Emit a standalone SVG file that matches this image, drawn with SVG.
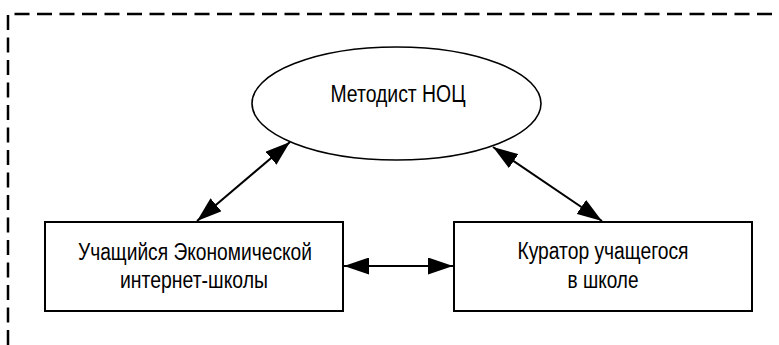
<svg xmlns="http://www.w3.org/2000/svg" width="779" height="345" viewBox="0 0 779 345">
<defs>
<style>
.frame{fill:none;stroke:#000;stroke-width:2.5;stroke-dasharray:15 7.5}
.node{fill:#fff;stroke:#000;stroke-width:2}
.ell{fill:#fff;stroke:#000;stroke-width:1.6}
.lbl{font-family:"Liberation Sans",Arial,sans-serif;font-size:23px;fill:#000;text-anchor:middle}
.edge{stroke:#000;stroke-width:2;fill:none;marker-start:url(#ah);marker-end:url(#ah)}
</style>
<marker id="ah" markerUnits="userSpaceOnUse" markerWidth="25" markerHeight="17" refX="25" refY="8.5" orient="auto-start-reverse" viewBox="0 0 25 17">
<path d="M0,0 L25,8.5 L0,17 z" fill="#000"/>
</marker>
</defs>
<rect width="779" height="345" fill="#fff"/>
<path class="frame" d="M8,345 L8,14 L779,14"/>
<g id="metodist">
<ellipse class="ell" cx="396.5" cy="103.5" rx="144.5" ry="56.5"/>
<text class="lbl" x="398" y="102" textLength="135" lengthAdjust="spacingAndGlyphs">Методист НОЦ</text>
</g>
<g id="student">
<rect class="node" x="45" y="222" width="298" height="89"/>
<text class="lbl" x="195" y="260" textLength="234" lengthAdjust="spacingAndGlyphs">Учащийся Экономической</text>
<text class="lbl" x="194" y="288" textLength="148" lengthAdjust="spacingAndGlyphs">интернет-школы</text>
</g>
<g id="curator">
<rect class="node" x="454" y="222" width="298" height="89"/>
<text class="lbl" x="603" y="259" textLength="171" lengthAdjust="spacingAndGlyphs">Куратор учащегося</text>
<text class="lbl" x="603" y="288" textLength="71" lengthAdjust="spacingAndGlyphs">в школе</text>
</g>
<g id="connectors">
<line class="edge" x1="197" y1="221" x2="290" y2="142"/>
<line class="edge" x1="493" y1="147" x2="602" y2="221"/>
<line class="edge" x1="344" y1="266" x2="453" y2="266"/>
</g>
</svg>
